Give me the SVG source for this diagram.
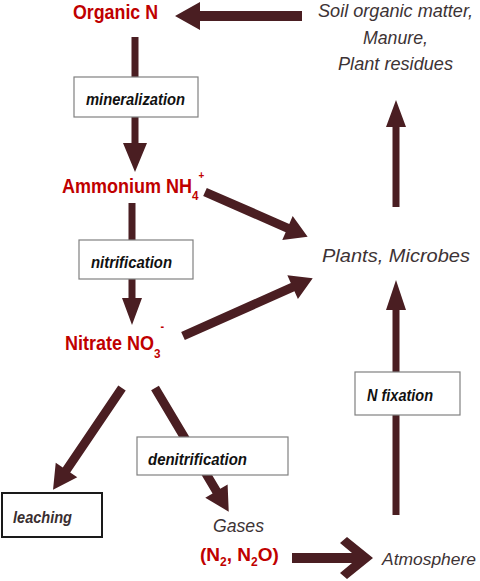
<svg xmlns="http://www.w3.org/2000/svg" width="480" height="581" viewBox="0 0 480 581">
<style>
.arr{fill:#4a1e22}
.box{fill:#ffffff;stroke:#808080;stroke-width:1.2}
.lab{font-family:"Liberation Sans",Arial,sans-serif;font-style:italic;font-weight:bold;font-size:17px;fill:#111111}
.red{font-family:"Liberation Sans Narrow","Liberation Sans",Arial,sans-serif;font-weight:bold;fill:#c00000}
.gry{font-family:"Liberation Sans Narrow","Liberation Sans",Arial,sans-serif;font-style:italic;font-size:19px;fill:#3d3335}
</style>
<rect width="480" height="581" fill="#ffffff"/>
<g id="connectors">
  <path class="arr" transform="translate(302,16) rotate(180)" d="M0,-5 H102 V-14 L127,0 L102,14 V5 H0 Z"/>
  <path class="arr" transform="translate(135,37) rotate(90)" d="M0,-3.5 H106 V-12 L135,0 L106,12 V3.5 H0 Z"/>
  <path class="arr" transform="translate(132,203) rotate(90)" d="M0,-3.5 H95 V-10 L122,0 L95,10 V3.5 H0 Z"/>
  <path class="arr" transform="translate(205,192) rotate(23.6)" d="M0,-4.5 H90 V-13 L112,0 L90,13 V4.5 H0 Z"/>
  <path class="arr" transform="translate(183,336) rotate(-24)" d="M0,-4.5 H120 V-13 L142,0 L120,13 V4.5 H0 Z"/>
  <path class="arr" transform="translate(396,207) rotate(-90)" d="M0,-3.5 H80 V-10 L107,0 L80,10 V3.5 H0 Z"/>
  <path class="arr" transform="translate(396,515) rotate(-90)" d="M0,-3.5 H205 V-10 L235,0 L205,10 V3.5 H0 Z"/>
  <path class="arr" transform="translate(122,388) rotate(124.1)" d="M0,-4.5 H99 V-13 L123,0 L99,13 V4.5 H0 Z"/>
  <path class="arr" transform="translate(155,388) rotate(59.2)" d="M0,-4.5 H120 V-13 L144,0 L120,13 V4.5 H0 Z"/>
  <path class="arr" d="M292,553 H352 L340,543 L347,537 L373,558 L347,579 L340,573 L352,563 H292 Z"/>
</g>
<g id="organicN">
  <text class="red" x="73" y="19" font-size="20" textLength="85" lengthAdjust="spacingAndGlyphs">Organic N</text>
</g>
<g id="soil">
  <text class="gry" x="318" y="17" textLength="155" lengthAdjust="spacingAndGlyphs">Soil organic matter,</text>
  <text class="gry" x="363" y="44" textLength="65" lengthAdjust="spacingAndGlyphs">Manure,</text>
  <text class="gry" x="338" y="70" textLength="115" lengthAdjust="spacingAndGlyphs">Plant residues</text>
</g>
<g id="mineralization">
  <rect class="box" x="74" y="77" width="124" height="40"/>
  <text class="lab" x="86" y="105" textLength="99" lengthAdjust="spacingAndGlyphs">mineralization</text>
</g>
<g id="ammonium">
  <text class="red" font-size="20" transform="translate(62,193) scale(0.9,1)">Ammonium NH<tspan font-size="13" dy="7">4</tspan><tspan font-size="11" dy="-21">+</tspan></text>
</g>
<g id="nitrification">
  <rect class="box" x="79" y="240" width="114" height="39"/>
  <text class="lab" x="91" y="268" textLength="81" lengthAdjust="spacingAndGlyphs">nitrification</text>
</g>
<g id="nitrate">
  <text class="red" font-size="20" transform="translate(65,350) scale(0.9,1)">Nitrate NO<tspan font-size="13" dy="8">3</tspan><tspan font-size="12" dy="-27">-</tspan></text>
</g>
<g id="plants">
  <text class="gry" x="322" y="262" textLength="148" lengthAdjust="spacingAndGlyphs">Plants, Microbes</text>
</g>
<g id="nfixation">
  <rect class="box" x="355" y="372" width="105" height="43"/>
  <text class="lab" x="367" y="401" textLength="66" lengthAdjust="spacingAndGlyphs">N fixation</text>
</g>
<g id="denitrification">
  <rect class="box" x="137" y="437" width="151" height="38"/>
  <text class="lab" x="148" y="465" textLength="99" lengthAdjust="spacingAndGlyphs">denitrification</text>
</g>
<g id="leaching">
  <rect x="2" y="493" width="100" height="44" fill="#ffffff" stroke="#1a1a1a" stroke-width="2"/>
  <text class="lab" x="13" y="523" textLength="59" lengthAdjust="spacingAndGlyphs" style="fill:#3a2e30">leaching</text>
</g>
<g id="gases">
  <text class="gry" x="213" y="532" textLength="51" lengthAdjust="spacingAndGlyphs">Gases</text>
  <text class="red" x="200" y="561" font-size="19">(N<tspan font-size="12" dy="5">2</tspan><tspan dy="-5">, N</tspan><tspan font-size="12" dy="5">2</tspan><tspan dy="-5">O)</tspan></text>
</g>
<g id="atmosphere">
  <text class="gry" x="382" y="565" font-size="17" style="font-size:17px" textLength="94" lengthAdjust="spacingAndGlyphs">Atmosphere</text>
</g>
</svg>
